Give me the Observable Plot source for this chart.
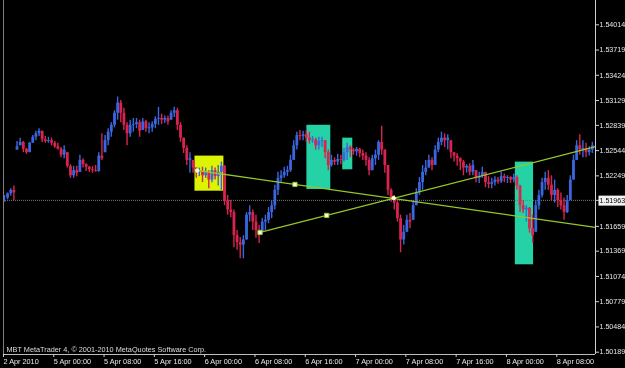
<!DOCTYPE html>
<html><head><meta charset="utf-8">
<script src="https://cdn.jsdelivr.net/npm/d3@7"></script>
<script src="https://cdn.jsdelivr.net/npm/@observablehq/plot@0.6"></script>
<style>html,body{margin:0;padding:0;background:#000;overflow:hidden}svg text{will-change:transform}</style>
</head><body><div id="chart"></div>
<script>
// 30-minute bars (index 0 = 2 Apr 2010 afternoon)
const highs = [
1.5202,1.5205,1.5210,1.5213,1.5265,1.5269,1.5265,1.5257,1.5264,1.5272,
1.5277,1.5280,1.5277,1.5271,1.5270,1.5269,1.5265,1.5263,1.5258,1.5260,
1.5252,1.5238,1.5236,1.5236,1.5249,1.5245,1.5239,1.5236,1.5236,1.5237,
1.5252,1.5274,1.5272,1.5280,1.5287,1.5301,1.5317,1.5313,1.5304,1.5287,
1.5290,1.5292,1.5292,1.5290,1.5292,1.5290,1.5287,1.5288,1.5294,1.5305,
1.5297,1.5295,1.5295,1.5301,1.5305,1.5304,1.5287,1.5269,1.5260,1.5252,
1.5243,1.5234,1.5234,1.5235,1.5234,1.5231,1.5236,1.5234,1.5237,1.5241,
1.5237,1.5202,1.5196,1.5185,1.5161,1.5153,1.5155,1.5182,1.5190,1.5185,
1.5179,1.5167,1.5175,1.5179,1.5188,1.5196,1.5214,1.5229,1.5231,1.5235,
1.5236,1.5249,1.5266,1.5276,1.5278,1.5277,1.5278,1.5276,1.5271,1.5269,
1.5270,1.5270,1.5266,1.5255,1.5249,1.5246,1.5250,1.5249,1.5257,1.5263,
1.5260,1.5257,1.5258,1.5257,1.5255,1.5252,1.5246,1.5249,1.5255,1.5266,
1.5283,1.5255,1.5237,1.5210,1.5202,1.5196,1.5179,1.5167,1.5179,1.5181,
1.5196,1.5210,1.5223,1.5237,1.5243,1.5249,1.5246,1.5260,1.5269,1.5276,
1.5274,1.5273,1.5266,1.5252,1.5251,1.5246,1.5243,1.5238,1.5239,1.5243,
1.5231,1.5229,1.5235,1.5229,1.5224,1.5222,1.5224,1.5223,1.5229,1.5227,
1.5225,1.5224,1.5227,1.5225,1.5214,1.5196,1.5190,1.5188,1.5179,1.5196,
1.5208,1.5222,1.5229,1.5231,1.5225,1.5220,1.5210,1.5205,1.5199,1.5202,
1.5225,1.5249,1.5266,1.5273,1.5266,1.5263,1.5259,1.5264];
const lows = [
1.5194,1.5197,1.5201,1.5196,1.5255,1.5260,1.5252,1.5250,1.5252,1.5263,
1.5266,1.5271,1.5264,1.5263,1.5263,1.5260,1.5257,1.5255,1.5246,1.5245,
1.5234,1.5222,1.5222,1.5224,1.5229,1.5234,1.5230,1.5229,1.5228,1.5229,
1.5229,1.5243,1.5252,1.5260,1.5270,1.5281,1.5290,1.5287,1.5278,1.5260,
1.5270,1.5276,1.5280,1.5270,1.5278,1.5276,1.5274,1.5276,1.5280,1.5284,
1.5285,1.5286,1.5284,1.5290,1.5293,1.5278,1.5264,1.5251,1.5237,1.5228,
1.5228,1.5222,1.5224,1.5217,1.5222,1.5210,1.5217,1.5220,1.5213,1.5208,
1.5190,1.5179,1.5176,1.5141,1.5138,1.5128,1.5128,1.5150,1.5171,1.5161,
1.5152,1.5146,1.5159,1.5161,1.5169,1.5175,1.5185,1.5202,1.5216,1.5222,
1.5224,1.5229,1.5243,1.5255,1.5266,1.5266,1.5264,1.5262,1.5263,1.5255,
1.5255,1.5258,1.5245,1.5231,1.5235,1.5237,1.5237,1.5238,1.5241,1.5243,
1.5246,1.5249,1.5248,1.5246,1.5243,1.5236,1.5225,1.5231,1.5237,1.5243,
1.5249,1.5228,1.5202,1.5194,1.5185,1.5171,1.5135,1.5144,1.5159,1.5163,
1.5173,1.5190,1.5202,1.5208,1.5225,1.5234,1.5231,1.5237,1.5252,1.5260,
1.5258,1.5255,1.5245,1.5241,1.5236,1.5231,1.5225,1.5228,1.5225,1.5225,
1.5217,1.5216,1.5222,1.5211,1.5210,1.5210,1.5213,1.5215,1.5216,1.5217,
1.5216,1.5216,1.5217,1.5208,1.5182,1.5181,1.5171,1.5158,1.5146,1.5159,
1.5185,1.5199,1.5208,1.5208,1.5196,1.5193,1.5188,1.5185,1.5173,1.5181,
1.5196,1.5220,1.5243,1.5249,1.5246,1.5246,1.5248,1.5251];
const closes = [
1.5199,1.5204,1.5208,1.5205,1.5259,1.5264,1.5256,1.5252,1.5263,1.5270,
1.5274,1.5277,1.5267,1.5265,1.5266,1.5263,1.5259,1.5256,1.5249,1.5255,
1.5236,1.5225,1.5231,1.5228,1.5243,1.5238,1.5235,1.5232,1.5231,1.5230,
1.5248,1.5245,1.5266,1.5276,1.5284,1.5298,1.5310,1.5298,1.5284,1.5274,
1.5284,1.5285,1.5287,1.5277,1.5288,1.5280,1.5281,1.5285,1.5291,1.5292,
1.5290,1.5292,1.5288,1.5298,1.5301,1.5284,1.5269,1.5257,1.5243,1.5245,
1.5234,1.5229,1.5230,1.5225,1.5229,1.5220,1.5231,1.5224,1.5229,1.5236,
1.5196,1.5185,1.5182,1.5155,1.5147,1.5144,1.5150,1.5179,1.5182,1.5171,
1.5161,1.5155,1.5171,1.5173,1.5182,1.5190,1.5208,1.5222,1.5225,1.5229,
1.5231,1.5243,1.5260,1.5272,1.5271,1.5273,1.5269,1.5266,1.5267,1.5260,
1.5265,1.5266,1.5252,1.5237,1.5243,1.5241,1.5244,1.5243,1.5252,1.5258,
1.5255,1.5253,1.5256,1.5251,1.5248,1.5243,1.5231,1.5245,1.5249,1.5264,
1.5255,1.5237,1.5208,1.5199,1.5193,1.5175,1.5150,1.5159,1.5173,1.5171,
1.5190,1.5205,1.5217,1.5229,1.5234,1.5243,1.5237,1.5255,1.5264,1.5269,
1.5266,1.5269,1.5252,1.5248,1.5245,1.5241,1.5234,1.5236,1.5229,1.5237,
1.5222,1.5224,1.5229,1.5217,1.5215,1.5217,1.5220,1.5218,1.5224,1.5222,
1.5223,1.5220,1.5223,1.5213,1.5190,1.5185,1.5187,1.5163,1.5155,1.5190,
1.5202,1.5217,1.5222,1.5214,1.5202,1.5208,1.5196,1.5190,1.5182,1.5196,
1.5220,1.5243,1.5260,1.5255,1.5257,1.5252,1.5255,1.5260];

const xTickIndex = [0,16,32,48,64,80,96,112,128,144,160,176];
const xTickLabels = ["2 Apr 2010","5 Apr 00:00","5 Apr 08:00","5 Apr 16:00","6 Apr 00:00","6 Apr 08:00",
  "6 Apr 16:00","7 Apr 00:00","7 Apr 08:00","7 Apr 16:00","8 Apr 00:00","8 Apr 08:00"];
const yTickValues = [1.54014,1.53719,1.53424,1.53129,1.52839,1.52544,1.52249,1.51963,1.51659,1.51369,1.51074,1.50779,1.50484,1.50189];
const bidPrice = 1.51963;

// drawn rectangles (bar index / price)
const boxStart  = [60.6, 96.2, 107.6, 162.5];
const boxEnd    = [69.8, 103.8, 110.8, 168.3];
const boxTop    = [1.5248, 1.5284, 1.5269, 1.5241];
const boxBottom = [1.5207, 1.5209, 1.5232, 1.5121];
const boxColor  = ["#dcf400", "#24d2a6", "#24d2a6", "#24d2a6"];

// trend line rays: two anchors each (bar index, price)
const trendAIndex = [61.3, 92.4];
const trendAPrice = [1.52312, 1.52149];
const trendBIndex = [81.3, 102.5];
const trendBPrice = [1.51588, 1.51787];
const crossIndex = 123.8, crossPrice = 1.51990;

const copyright = "MBT MetaTrader 4, \u00a9 2001-2010 MetaQuotes Software Corp.";

const bullColor = "#3a66e0", bearColor = "#d8244e";
const lastIndex = 188;

const bars = closes.map((c, i) => {
  const prev = i ? closes[i - 1] : c;
  const open = Math.max(lows[i], Math.min(highs[i], prev));
  return {i, high: highs[i], low: lows[i], close: c, open, color: c >= prev ? bullColor : bearColor};
});
const boxes = boxStart.map((s, k) => ({x1: s, x2: boxEnd[k], y1: boxTop[k], y2: boxBottom[k], color: boxColor[k]}));
function ray(ix, py) {
  const slope = (py[1] - py[0]) / (ix[1] - ix[0]);
  return [{x: ix[0], y: py[0]}, {x: lastIndex, y: py[0] + slope * (lastIndex - ix[0])}];
}
const anchors = [
  {x: trendAIndex[1], y: trendAPrice[1]},
  {x: trendBIndex[0], y: trendBPrice[0]},
  {x: trendBIndex[1], y: trendBPrice[1]}
];
const labelMap = new Map(xTickIndex.map((d, k) => [d, xTickLabels[k]]));

const font = "'Liberation Sans', Arial, sans-serif";
const chart = Plot.plot({
  width: 625, height: 368,
  marginLeft: 3, marginRight: 30, marginTop: 0, marginBottom: 14,
  style: {background: "#000", color: "#e8e8e8", fontFamily: font, fontSize: "7.3px"},
  x: {domain: [-0.3, lastIndex], axis: null},
  y: {domain: [1.50162, 1.54298], axis: null},
  color: {type: "identity"},
  marks: [
    Plot.rect(boxes, {x1: "x1", x2: "x2", y1: "y1", y2: "y2", fill: "color"}),
    Plot.ruleY([bidPrice], {stroke: "#7c7c7c", strokeDasharray: "1,1"}),
    Plot.ruleX(bars, {x: "i", y1: "low", y2: "high", stroke: "color", strokeWidth: 1.4}),
    Plot.ruleX(bars, {x: "i", y1: "open", y2: "close", stroke: "color", strokeWidth: 2.8}),
    Plot.line(ray(trendAIndex, trendAPrice), {x: "x", y: "y", stroke: "#94c82a", strokeWidth: 1.3}),
    Plot.line(ray(trendBIndex, trendBPrice), {x: "x", y: "y", stroke: "#94c82a", strokeWidth: 1.3}),
    Plot.dot(anchors, {x: "x", y: "y", symbol: "square", r: 2.4, fill: "#f4ffe8", stroke: "#94c82a", strokeWidth: 1}),
    Plot.dot([{x: trendAIndex[0], y: trendAPrice[0]}, {x: crossIndex, y: crossPrice}], {x: "x", y: "y", r: 1.8, fill: "#ffffff", stroke: "#e8ffc8", strokeWidth: 1}),
    Plot.ruleX([-0.3], {stroke: "#808080"}),
    Plot.ruleX([lastIndex], {stroke: "#d0d0d0"}),
    Plot.ruleY([1.50162], {stroke: "#bdbdbd"}),
    Plot.axisX({ticks: xTickIndex, tickFormat: d => labelMap.get(d), tickSize: 3, tickPadding: 1,
      textAnchor: "start", dx: -1, stroke: "#d0d0d0", fill: "#e8e8e8", fontSize: 7.3}),
    Plot.axisY({anchor: "right", ticks: yTickValues, tickFormat: d => d.toFixed(5), tickSize: 3, tickPadding: 1,
      stroke: "#d0d0d0", fill: "#e8e8e8", fontSize: 7.1}),
    Plot.text([copyright], {frameAnchor: "bottom-left", dx: 3, dy: -3, fill: "#dcdcdc", fontSize: 7.3, textAnchor: "start"})
  ]
});
document.getElementById("chart").appendChild(chart);

// highlight current bid price label
d3.select(chart).selectAll("text").filter(function() { return this.textContent === bidPrice.toFixed(5); })
  .each(function() {
    const bb = this.getBBox();
    d3.select(this.parentNode).insert("rect", () => this)
      .attr("transform", this.getAttribute("transform"))
      .attr("x", bb.x - 1).attr("y", bb.y - 1).attr("width", bb.width + 3).attr("height", bb.height + 2)
      .attr("fill", "#f2f2f2");
    d3.select(this).attr("fill", "#000");
  });
</script>
</body></html>
